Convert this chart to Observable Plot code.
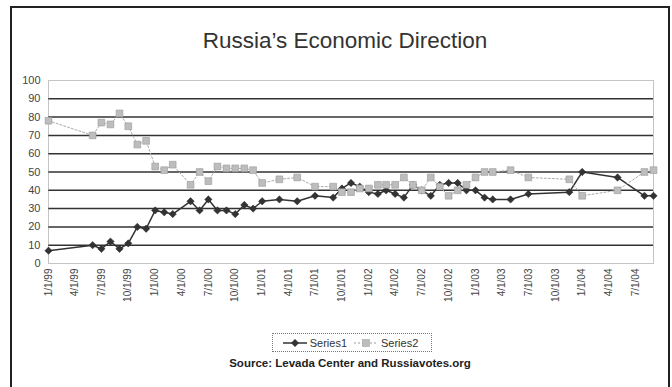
<!DOCTYPE html>
<html><head><meta charset="utf-8">
<script src="https://cdn.jsdelivr.net/npm/d3@7"></script>
<script src="https://cdn.jsdelivr.net/npm/@observablehq/plot@0.6"></script>
<style>
body{margin:0;background:#fff;font-family:Arial,"Liberation Sans",sans-serif;}
#wrap{position:relative;width:672px;height:387px;overflow:hidden;background:#fff;}
#frame{position:absolute;left:10px;top:6px;width:660px;height:400px;border:2px solid #222;box-sizing:border-box;z-index:5;pointer-events:none;}
#title{position:absolute;left:0;width:690px;top:28px;text-align:center;font-size:22.5px;color:#333;font-family:"Liberation Sans",Arial,sans-serif;}
#chart{position:absolute;left:0;top:60px;}
#legend{position:absolute;left:272px;top:333px;width:160px;height:19px;border:1px dotted #777;box-sizing:border-box;display:flex;align-items:center;justify-content:center;font-size:11px;color:#333;gap:2px;}
#legend span{margin-right:4px;}
#caption{position:absolute;left:0;width:700px;top:357px;text-align:center;font-size:11.5px;color:#222;font-weight:bold;}
</style></head>
<body>
<div id="wrap">
  <div id="title">Russia’s Economic Direction</div>
  <div id="chart"></div>
  <div id="legend">
    <svg width="26" height="10"><line x1="1" y1="5" x2="25" y2="5" stroke="#333" stroke-width="1.5"/><path d="M13,1 L17,5 L13,9 L9,5 Z" fill="#333"/></svg><span>Series1</span>
    <svg width="26" height="10"><line x1="1" y1="5" x2="25" y2="5" stroke="#999" stroke-width="1" stroke-dasharray="2,2"/><rect x="9.5" y="1.5" width="7" height="7" fill="#bdbdbd" stroke="#999" stroke-width="0.5"/></svg><span>Series2</span>
  </div>
  <div id="caption">Source: Levada Center and Russiavotes.org</div>
  <div id="frame"></div>
</div>
<script>
const dates = [
  "1999-01-01","1999-06-01","1999-07-01","1999-08-01","1999-09-01","1999-10-01","1999-11-01","1999-12-01",
  "2000-01-01","2000-02-01","2000-03-01","2000-05-01","2000-06-01","2000-07-01","2000-08-01","2000-09-01","2000-10-01","2000-11-01","2000-12-01",
  "2001-01-01","2001-03-01","2001-05-01","2001-07-01","2001-09-01","2001-10-01","2001-11-01","2001-12-01",
  "2002-01-01","2002-02-01","2002-03-01","2002-04-01","2002-05-01","2002-06-01","2002-07-01","2002-08-01","2002-09-01","2002-10-01","2002-11-01","2002-12-01",
  "2003-01-01","2003-02-01","2003-03-01","2003-05-01","2003-07-01","2003-11-18",
  "2004-01-01","2004-05-01","2004-08-01","2004-09-01"
];
const series1 = [
  7,10,8,12,8,11,20,19,
  29,28,27,34,29,35,29,29,27,32,30,
  34,35,34,37,36,41,44,42,
  39,38,40,38,36,43,40,37,43,44,44,40,
  40,36,35,35,38,39,
  50,47,37,37
];
const series2 = [
  78,70,77,76,82,75,65,67,
  53,51,54,43,50,45,53,52,52,52,51,
  44,46,47,42,42,39,39,41,
  41,43,43,43,47,43,40,47,42,37,40,43,
  47,50,50,51,47,46,
  37,40,50,51
];
const yTicks = [0,10,20,30,40,50,60,70,80,90,100];
const gridLines = [10,20,30,40,50,60,70,80,90];
const xTickLabels = [
  "1/1/99","4/1/99","7/1/99","10/1/99","1/1/00","4/1/00","7/1/00","10/1/00",
  "1/1/01","4/1/01","7/1/01","10/1/01","1/1/02","4/1/02","7/1/02","10/1/02",
  "1/1/03","4/1/03","7/1/03","10/1/03","1/1/04","4/1/04","7/1/04"
];
const parseTick = s => { const [m,d,y] = s.split("/").map(Number); return new Date(Date.UTC(2000 + (y > 50 ? y - 100 : y), m - 1, d)); };
const xTicks = xTickLabels.map(parseTick);
const fmt = d => `${d.getUTCMonth()+1}/${d.getUTCDate()}/${String(d.getUTCFullYear()).slice(2)}`;

const rows1 = dates.map((d,i) => ({date: new Date(d), v: series1[i]}));
const rows2 = dates.map((d,i) => ({date: new Date(d), v: series2[i]}));

const chart = Plot.plot({
  width: 672, height: 250,
  marginLeft: 48, marginRight: 19, marginTop: 20, marginBottom: 47,
  x: {type: "utc", domain: [new Date(dates[0]), new Date(dates[dates.length-1])]},
  y: {domain: [0, 100]},
  style: {fontFamily: "Arial, 'Liberation Sans', sans-serif", fontSize: "11px", color: "#444", background: "transparent", overflow: "visible"},
  marks: [
    Plot.ruleY(gridLines, {stroke: "#333", strokeWidth: 1.5}),
    Plot.frame({stroke: "#888", strokeDasharray: "1,1"}),
    Plot.axisY({ticks: yTicks, tickSize: 0, tickPadding: 8, label: null, fontSize: 11}),
    Plot.axisX({ticks: xTicks, tickFormat: fmt, tickRotate: -90, tickSize: 0, tickPadding: 5, label: null, fontSize: 10}),
    Plot.line(rows1, {x: "date", y: "v", stroke: "#333", strokeWidth: 1.5}),
    Plot.dot(rows1, {x: "date", y: "v", symbol: "diamond2", r: 3.3, fill: "#333", stroke: "#222", strokeWidth: 0.5}),
    Plot.line(rows2, {x: "date", y: "v", stroke: "#aaa", strokeWidth: 1, strokeDasharray: "2,2"}),
    Plot.dot(rows2, {x: "date", y: "v", symbol: "square", r: 3.8, fill: "#bdbdbd", stroke: "#999", strokeWidth: 0.6})
  ]
});
document.getElementById("chart").appendChild(chart);
</script>
</body></html>
